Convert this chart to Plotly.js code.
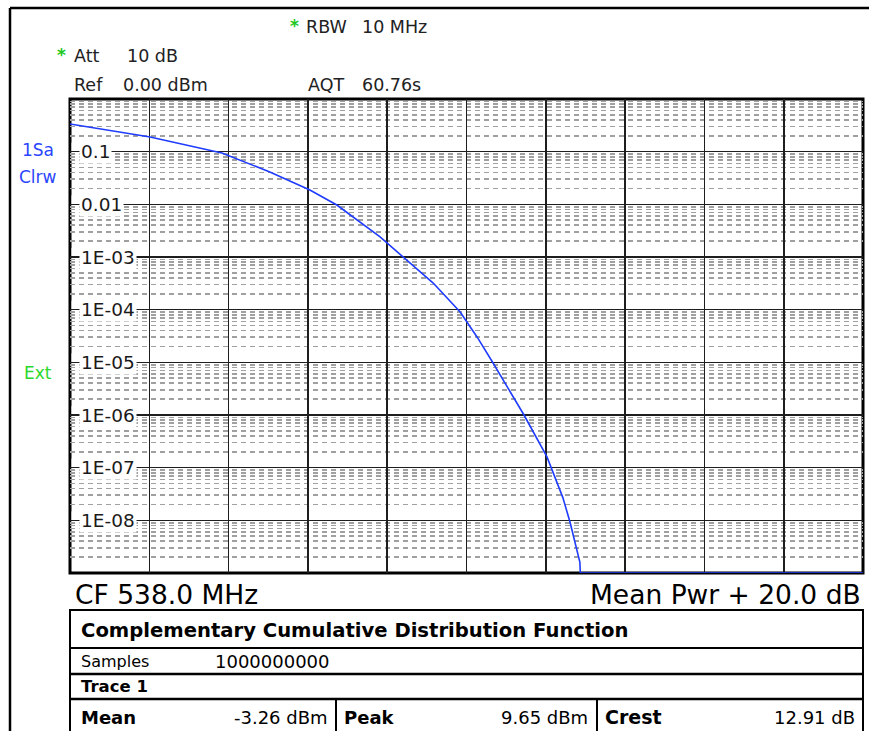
<!DOCTYPE html>
<html>
<head>
<meta charset="utf-8">
<script src="https://cdn.plot.ly/plotly-3.0.1.min.js"></script>
<style>html,body{margin:0;padding:0;background:#fff;}#chart{width:869px;height:731px;}</style>
</head>
<body>
<div id="chart"></div>
<script>
// ---- data ----
const powerAboveMeanDb = [0, 2.02, 3.83, 5.04, 6.05, 6.73, 7.82, 8.45, 9.16, 9.84, 10.27, 10.67, 10.92, 11.45, 12.03, 12.43, 12.61, 12.86, 12.87, 20];
const ccdfProbability  = [0.335, 0.19, 0.0944, 0.0411, 0.0187, 0.0097, 2.4e-3, 9.2e-4, 3.2e-4, 9.0e-5, 3.0e-5, 9.7e-6, 4.6e-6, 1.0e-6, 1.6e-7, 2.7e-8, 9.3e-9, 1.6e-9, 1e-9, 1e-9];
const yTickValues = [0.1, 0.01, 1e-3, 1e-4, 1e-5, 1e-6, 1e-7, 1e-8];
const yTickLabels = ['0.1', '0.01', '1E-03', '1E-04', '1E-05', '1E-06', '1E-07', '1E-08'];
const centerFreqText = 'CF 538.0 MHz';
const spanText = 'Mean Pwr + 20.0 dB';
const tableTitle = 'Complementary Cumulative Distribution Function';
const samplesLabel = 'Samples';
const samplesValue = '1000000000';
const traceLabel = 'Trace 1';
const resultNames  = ['Mean', 'Peak', 'Crest'];
const resultValues = ['-3.26 dBm', '9.65 dBm', '12.91 dB'];

// ---- geometry helpers (layout only) ----
const L = 70, R = 863, T = 99, B = 573;
const W = R - L, H = B - T;
const px = x => (x - L) / W;
const py = y => (B - y) / H;
const FONT = 'DejaVu Sans, Verdana, sans-serif';

function txt(text, x, y, size, color, anchor, extra) {
  return Object.assign({
    xref: 'paper', yref: 'paper', x: px(x), y: py(y),
    xanchor: anchor || 'left', yanchor: 'middle',
    text: text, showarrow: false,
    font: {family: FONT, size: size, color: color || '#000'}
  }, extra || {});
}
function line(x0, y0, x1, y1, w, c) {
  return {type: 'line', xref: 'paper', yref: 'paper', x0: px(x0), y0: py(y0), x1: px(x1), y1: py(y1),
          line: {color: c || '#000', width: w || 2}, layer: 'above'};
}

const annotations = [
  txt('*', 288, 26, 17, '#1ec81e', 'left', {font: {family: FONT, size: 17, color: '#1ec81e', weight: 'bold'}}),
  txt('RBW', 304, 27, 17.5, '#222'),
  txt('10 MHz', 360, 27, 17.5, '#222'),
  txt('*', 55, 55, 17, '#1ec81e', 'left', {font: {family: FONT, size: 17, color: '#1ec81e', weight: 'bold'}}),
  txt('Att', 72, 56, 17.5, '#222'),
  txt('10 dB', 125, 56, 17.5, '#222'),
  txt('Ref', 72, 85, 17.5, '#222'),
  txt('0.00 dBm', 121, 85, 17.5, '#222'),
  txt('AQT', 306, 85, 17.5, '#222'),
  txt('60.76s', 360, 85, 17.5, '#222'),
  txt('1Sa', 20, 150, 17, '#2a45ff'),
  txt('Clrw', 17, 177, 17, '#2a45ff'),
  txt('Ext', 22, 373, 17, '#2bd82b'),
  txt(centerFreqText, 73, 594, 26.5, '#000'),
  txt(spanText, 863, 594, 26.5, '#000', 'right'),
  txt('<b>' + tableTitle + '</b>', 79, 630, 19.6),
  txt(samplesLabel, 79, 661, 16),
  txt(samplesValue, 213, 661, 18),
  txt('<b>' + traceLabel + '</b>', 79, 686, 16.5),
  txt('<b>' + resultNames[0] + '</b>', 79, 717, 18),
  txt(resultValues[0], 330, 717, 18, '#000', 'right'),
  txt('<b>' + resultNames[1] + '</b>', 342, 717, 18),
  txt(resultValues[1], 590, 717, 18, '#000', 'right'),
  txt('<b>' + resultNames[2] + '</b>', 603, 717, 19),
  txt(resultValues[2], 857, 717, 18, '#000', 'right')
];

const shapes = [
  // outer instrument frame
  line(10, 8, 869, 8, 2.5),
  line(10, 8, 10, 735, 2.5),
  // table
  line(70, 610, 863, 610, 2),
  line(70, 648, 863, 648, 2),
  line(70, 674, 863, 674, 2.5),
  line(70, 699, 863, 699, 2.5),
  line(70, 609, 70, 735, 2),
  line(863, 609, 863, 735, 2),
  line(336, 699, 336, 735, 2),
  line(597, 699, 597, 735, 2),
  // diagram border
  {type: 'rect', xref: 'paper', yref: 'paper', x0: 0, y0: 0, x1: 1, y1: 1,
   line: {color: '#000', width: 3}, layer: 'between'}
];

// y tick labels drawn inside the diagram with white backgrounds
yTickValues.forEach((v, i) => {
  const yp = (Math.log10(v) + 9) / 9;
  shapes.push({type: 'rect', xref: 'paper', yref: 'paper', x0: px(71.5), x1: px(82), y0: yp - 9 / H, y1: yp + 9 / H,
               fillcolor: '#fff', line: {width: 0}, layer: 'between'});
  annotations.push({xref: 'paper', yref: 'y', x: px(79), y: Math.log10(v), xanchor: 'left', yanchor: 'middle',
    text: yTickLabels[i], showarrow: false, bgcolor: '#fff', borderpad: 1,
    font: {family: FONT, size: 18.5, color: '#1a1a1a'}});
});

const trace = {
  x: powerAboveMeanDb, y: ccdfProbability, type: 'scatter', mode: 'lines',
  line: {color: '#1f3cff', width: 1.6}, hoverinfo: 'skip'
};

const layout = {
  width: 869, height: 731,
  margin: {l: L, r: 869 - R, t: T, b: 731 - B, pad: 0},
  paper_bgcolor: '#fff', plot_bgcolor: '#fff',
  showlegend: false,
  xaxis: {range: [0, 20], dtick: 2, tick0: 0, showgrid: true, gridcolor: '#1e1e1e', gridwidth: 1.6,
          showticklabels: false, ticks: '', zeroline: false, showline: false, fixedrange: true},
  yaxis: {type: 'log', range: [-9, 0], dtick: 1, showgrid: true, gridcolor: '#1e1e1e', gridwidth: 1.6,
          showticklabels: false, ticks: '', zeroline: false, showline: false, fixedrange: true,
          minor: {dtick: 'D1', showgrid: true, gridcolor: '#a0a0a0', gridwidth: 1.6, griddash: '5px,4px', ticks: ''}},
  annotations: annotations,
  shapes: shapes
};

Plotly.newPlot('chart', [trace], layout, {displayModeBar: false, staticPlot: true});
</script>
</body>
</html>
